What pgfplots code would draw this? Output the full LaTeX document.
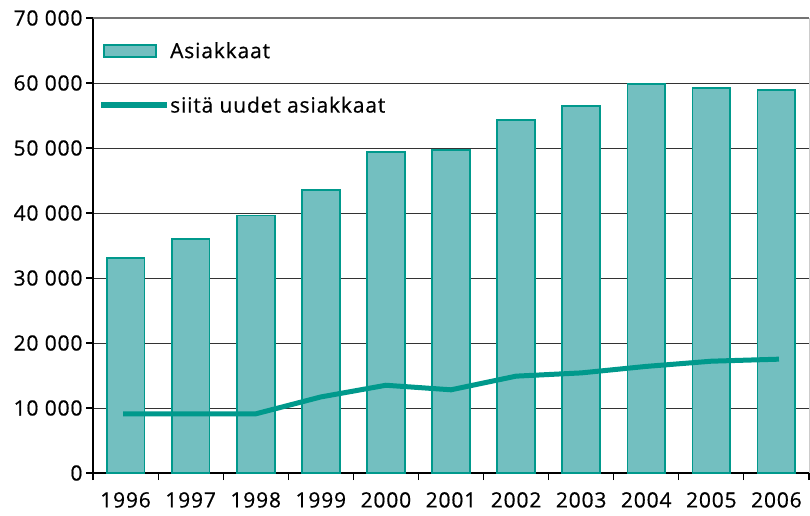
\documentclass[border=0pt]{standalone}
\usepackage{fontspec}
\setmainfont{Open Sans}[LetterSpace=4, FakeBold=0.6]
\usepackage{pgfplots}
\pgfplotsset{compat=1.18}
\definecolor{barfill}{RGB}{115,191,192}
\definecolor{tealline}{RGB}{0,153,140}
\begin{document}
\begin{tikzpicture}
\begin{axis}[
  scale only axis, width=716bp, height=455bp,
  xmin=-0.5, xmax=10.5, ymin=0, ymax=70000,
  axis x line*=bottom, axis y line*=left,
  axis line style={black, line width=1.2bp},
  xtick={-0.5,0.5,...,10.5},
  xticklabels={1996,1997,1998,1999,2000,2001,2002,2003,2004,2005,2006},
  x tick label as interval,
  ytick={0,10000,20000,30000,40000,50000,60000,70000},
  ymajorgrids, grid style={black!80, line width=0.9bp},
  tick align=outside, major tick length=7bp,
  tick style={black, line width=1.1bp},
  scaled y ticks=false,
  /pgf/number format/assume math mode=true,
  /pgf/number format/1000 sep={\ },
  ticklabel style={font=\fontsize{21bp}{25bp}\selectfont},
  xticklabel style={inner sep=0pt, yshift=-12bp},
  clip=false,
  legend cell align=left,
  legend style={at={(rel axis cs:0,1)}, anchor=north west, xshift=8bp, yshift=-22bp,
    draw=none, fill=none, font=\fontsize{21bp}{25bp}\selectfont,
    row sep=33bp, column sep=1bp, inner sep=0pt},
]
\addplot[ybar, bar width=0.58, fill=barfill, draw=tealline, line width=1.8bp,
  legend image code/.code={\draw[fill=barfill, draw=tealline, line width=1.8bp] (0bp,-6bp) rectangle (52bp,6bp);}]
  coordinates {(0,33100)(1,35950)(2,39600)(3,43500)(4,49400)(5,49700)(6,54300)(7,56400)(8,59800)(9,59200)(10,58900)};
\addlegendentry{Asiakkaat}
\addplot[sharp plot, mark=none, draw=tealline, line width=5bp, line cap=rect,
  legend image code/.code={\draw[tealline, line width=6bp] (0bp,0bp) -- (60bp,0bp);}]
  coordinates {(0,9100)(1,9100)(2,9100)(3,11700)(4,13500)(5,12800)(6,14900)(7,15400)(8,16400)(9,17200)(10,17500)};
\addlegendentry{siitä uudet asiakkaat}
\draw[black!55, line width=1.8bp] (rel axis cs:0,1) -- (rel axis cs:1,1);
\draw[black!20, line width=1bp] (rel axis cs:1,0) -- (rel axis cs:1,1);
\end{axis}
\pgfresetboundingbox
\path (current axis.south west) ++(-93bp,-43bp) coordinate (bbA);
\path (current axis.north east) ++(1bp,18bp) coordinate (bbB);
\path (bbA) rectangle (bbB);
\end{tikzpicture}
\end{document}
